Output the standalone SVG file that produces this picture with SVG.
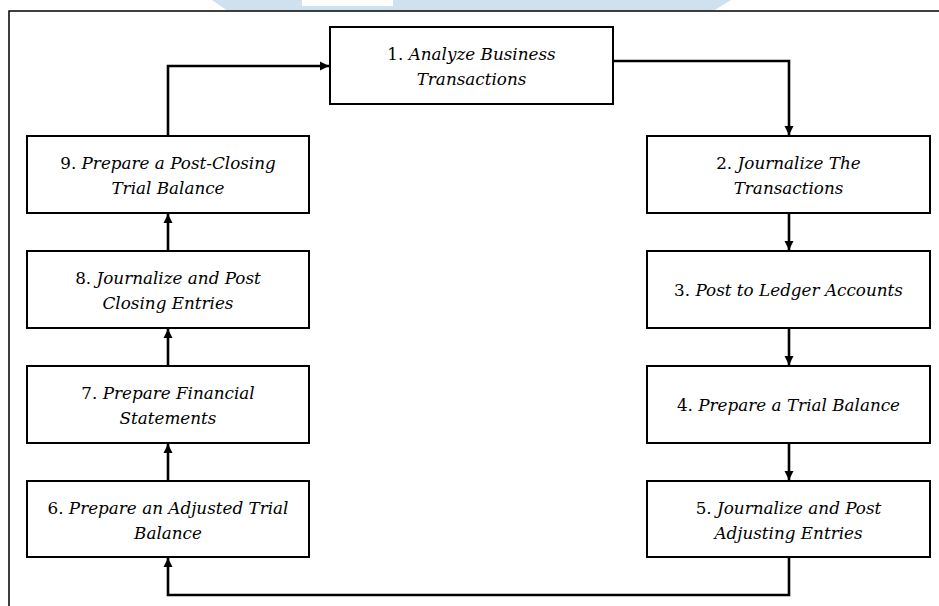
<svg xmlns="http://www.w3.org/2000/svg" width="939" height="606" viewBox="0 0 939 606">
<style>
.box{fill:#fff;stroke:#000;stroke-width:2}
.t{font-family:"DejaVu Serif",serif;font-size:16.8px;fill:#000;text-anchor:middle}
.i{font-style:italic}
.c{fill:none;stroke:#000;stroke-width:2.6}
</style>
<defs>
<marker id="ah" markerUnits="userSpaceOnUse" markerWidth="10" markerHeight="10" refX="9" refY="5" orient="auto">
<path d="M0,0.5 L9,5 L0,9.5 Z" fill="#000"/>
</marker>
</defs>
<rect width="939" height="606" fill="#fff"/>
<g id="watermark">
<polygon points="212,0 731,0 714,10.5 227,10.5" fill="#cfe0ef"/>
<rect x="302" y="0" width="91" height="6" fill="#fff"/>
</g>
<g id="frame" fill="none" stroke="#000" stroke-width="1.5">
<path d="M9,606 V11 H939"/>
</g>
<g id="connectors">
<path class="c" d="M168,136 V66 H329" marker-end="url(#ah)"/>
<path class="c" d="M613,61 H789 V135" marker-end="url(#ah)"/>
<path class="c" d="M789,213 V250" marker-end="url(#ah)"/>
<path class="c" d="M789,328 V365" marker-end="url(#ah)"/>
<path class="c" d="M789,443 V480" marker-end="url(#ah)"/>
<path class="c" d="M789,557 V595 H168 V558" marker-end="url(#ah)"/>
<path class="c" d="M168,481 V444" marker-end="url(#ah)"/>
<path class="c" d="M168,366 V329" marker-end="url(#ah)"/>
<path class="c" d="M168,251 V214" marker-end="url(#ah)"/>
</g>
<g id="n1"><rect class="box" x="330" y="27" width="283" height="77"/>
<text class="t" x="471.5" y="60">1. <tspan class="i">Analyze Business</tspan></text>
<text class="t i" x="471.5" y="84.5">Transactions</text></g>
<g id="n2"><rect class="box" x="647" y="136" width="283" height="77"/>
<text class="t" x="788.5" y="169">2. <tspan class="i">Journalize The</tspan></text>
<text class="t i" x="788.5" y="193.5">Transactions</text></g>
<g id="n3"><rect class="box" x="647" y="251" width="283" height="77"/>
<text class="t" x="788.5" y="296">3. <tspan class="i">Post to Ledger Accounts</tspan></text></g>
<g id="n4"><rect class="box" x="647" y="366" width="283" height="77"/>
<text class="t" x="788.5" y="411">4. <tspan class="i">Prepare a Trial Balance</tspan></text></g>
<g id="n5"><rect class="box" x="647" y="481" width="283" height="76"/>
<text class="t" x="788.5" y="514">5. <tspan class="i">Journalize and Post</tspan></text>
<text class="t i" x="788.5" y="538.5">Adjusting Entries</text></g>
<g id="n6"><rect class="box" x="27" y="481" width="282" height="76"/>
<text class="t" x="168" y="514">6. <tspan class="i">Prepare an Adjusted Trial</tspan></text>
<text class="t i" x="168" y="538.5">Balance</text></g>
<g id="n7"><rect class="box" x="27" y="366" width="282" height="77"/>
<text class="t" x="168" y="399">7. <tspan class="i">Prepare Financial</tspan></text>
<text class="t i" x="168" y="423.5">Statements</text></g>
<g id="n8"><rect class="box" x="27" y="251" width="282" height="77"/>
<text class="t" x="168" y="284">8. <tspan class="i">Journalize and Post</tspan></text>
<text class="t i" x="168" y="308.5">Closing Entries</text></g>
<g id="n9"><rect class="box" x="27" y="136" width="282" height="77"/>
<text class="t" x="168" y="169">9. <tspan class="i">Prepare a Post-Closing</tspan></text>
<text class="t i" x="168" y="193.5">Trial Balance</text></g>
</svg>
